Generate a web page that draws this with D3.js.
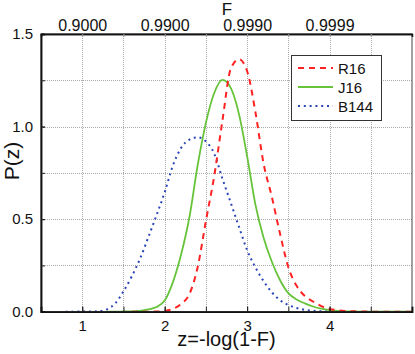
<!DOCTYPE html>
<html>
<head>
<meta charset="utf-8">
<script src="https://cdn.jsdelivr.net/npm/d3@7"></script>
<style>
  body { margin: 0; background: #fff; }
  svg { display: block; font-family: "Liberation Sans", Arial, sans-serif; }
</style>
</head>
<body>
<svg></svg>
<script>
// Chart data
var zValues = [0.7, 0.8, 0.9, 1.0, 1.1, 1.2, 1.3, 1.4, 1.5, 1.6, 1.7, 1.8, 1.9, 2.0, 2.1, 2.2, 2.3, 2.4, 2.5, 2.6,
  2.7, 2.8, 2.9, 3.0, 3.1, 3.2, 3.3, 3.4, 3.5, 3.6, 3.7, 3.8, 3.9, 4.0, 4.1, 4.2, 4.3, 4.4, 4.5, 4.6,
  4.7, 4.8, 4.9, 5.0];

var r16 = [null, null, null, null, null, null, null, null, null, 0, 0, 0, 0.001, 0.004, 0.015, 0.042, 0.095, 0.24, 0.49, 0.73,
  1.03, 1.31, 1.364, 1.3, 1.08, 0.8, 0.62, 0.42, 0.24, 0.14, 0.085, 0.055, 0.03, 0.015, 0.008, 0.004, 0.002, 0.001, 0, 0,
  0, 0, 0, 0];

var j16 = [null, null, null, null, null, null, 0, 0, 0.001, 0.002, 0.005, 0.012, 0.025, 0.06, 0.16, 0.31, 0.51, 0.79, 1.02, 1.18,
  1.252, 1.21, 1.07, 0.84, 0.58, 0.4, 0.27, 0.17, 0.1, 0.066, 0.045, 0.028, 0.016, 0.008, 0.004, 0.002, 0.001, 0, 0, 0,
  0, 0, 0, 0];

var b144 = [null, 0, 0, 0.001, 0.001, 0.003, 0.013, 0.045, 0.11, 0.19, 0.285, 0.4, 0.52, 0.645, 0.79, 0.885, 0.93, 0.942, 0.92, 0.855,
  0.72, 0.59, 0.46, 0.333, 0.24, 0.165, 0.105, 0.062, 0.036, 0.02, 0.01, 0.005, 0.002, 0.001, 0, 0, null, null, null, null,
  null, null, null, null];

var seriesNames = ["R16", "J16", "B144"];
var xTicks = [1, 2, 3, 4];
var topTickLabels = ["0.9000", "0.9900", "0.9990", "0.9999"];
var yTicks = [0, 0.5, 1.0, 1.5];

var width = 415;
var height = 354;
var plotLeft = 41, plotRight = 412, plotTop = 34, plotBottom = 311.7;

var svg = d3.select("svg")
  .attr("width", width)
  .attr("height", height);

var x = d3.scaleLinear().domain([0.5, 5]).range([plotLeft, plotRight]);
var y = d3.scaleLinear().domain([0, 1.5]).range([plotBottom, plotTop]);

// dotted grid
var grid = svg.append("g")
  .attr("stroke", "#aaa")
  .attr("stroke-width", 1)
  .attr("stroke-dasharray", "1,1");

grid.selectAll(".vg")
  .data(d3.range(1, 5, 0.5))
  .enter().append("line")
  .attr("x1", d => Math.round(x(d)) + 0.5)
  .attr("x2", d => Math.round(x(d)) + 0.5)
  .attr("y1", plotTop)
  .attr("y2", plotBottom);

grid.selectAll(".hg")
  .data(d3.range(0.25, 1.5, 0.25))
  .enter().append("line")
  .attr("x1", plotLeft)
  .attr("x2", plotRight)
  .attr("y1", d => Math.round(y(d)) + 0.5)
  .attr("y2", d => Math.round(y(d)) + 0.5);

// curves
var line = d3.line()
  .defined(d => d[1] !== null)
  .x(d => x(d[0]))
  .y(d => y(d[1]))
  .curve(d3.curveMonotoneX);

var styles = [
  { name: "R16", values: r16, color: "#f22", dash: "6,5", w: 2 },
  { name: "J16", values: j16, color: "#66c33a", dash: null, w: 1.8 },
  { name: "B144", values: b144, color: "#2b45b8", dash: "2,3.8", w: 2 }
];

svg.append("clipPath").attr("id", "plot")
  .append("rect").attr("x", plotLeft).attr("y", plotTop - 5)
  .attr("width", plotRight - plotLeft).attr("height", plotBottom - plotTop + 5);

svg.append("g").attr("clip-path", "url(#plot)")
  .selectAll("path")
  .data(styles.slice().reverse())
  .enter().append("path")
  .attr("fill", "none")
  .attr("stroke", d => d.color)
  .attr("stroke-width", d => d.w)
  .attr("stroke-dasharray", d => d.dash)
  .attr("d", d => line(zValues.map((z, i) => [z, d.values[i]])));

// frame
svg.append("rect")
  .attr("x", plotLeft).attr("y", plotTop)
  .attr("width", plotRight - plotLeft).attr("height", plotBottom - plotTop)
  .attr("fill", "none")
  .attr("stroke", "#444")
  .attr("stroke-width", 1);

// left axis
var yAxis = svg.append("g")
  .attr("transform", "translate(" + plotLeft + ",0)")
  .call(d3.axisLeft(y).tickValues(yTicks).tickFormat(d3.format(".1f")).tickSize(-4).tickPadding(8));
var yMinor = svg.append("g")
  .attr("transform", "translate(" + plotLeft + ",0)")
  .call(d3.axisLeft(y).tickValues(d3.range(0, 1.51, 0.25)).tickFormat("").tickSize(-4));

// bottom axis
var xAxis = svg.append("g")
  .attr("transform", "translate(0," + plotBottom + ")")
  .call(d3.axisBottom(x).tickValues(xTicks).tickFormat(d3.format("d")).tickSize(-5).tickPadding(9));
var xMinor = svg.append("g")
  .attr("transform", "translate(0," + plotBottom + ")")
  .call(d3.axisBottom(x).tickValues(d3.range(1, 5, 0.5)).tickFormat("").tickSize(-5));

// top axis with F labels
var topAxis = svg.append("g")
  .attr("transform", "translate(0," + plotTop + ")")
  .call(d3.axisTop(x).tickValues(xTicks).tickFormat((d, i) => topTickLabels[i]).tickSize(0).tickPadding(3));
var topMinor = svg.append("g")
  .attr("transform", "translate(0," + plotTop + ")")
  .call(d3.axisTop(x).tickValues(d3.range(1, 5, 0.5)).tickFormat("").tickSize(-3));

[yAxis, yMinor, xAxis, xMinor, topAxis, topMinor].forEach(function(g) {
  g.attr("font-family", null).attr("font-size", null);
  g.select(".domain").attr("stroke", "#111").attr("stroke-width", 1.5);
  g.selectAll(".tick line").attr("stroke", "#222");
  g.selectAll("text").attr("fill", "#111");
});
topMinor.selectAll(".tick line").attr("stroke", "#999");
yAxis.selectAll("text").attr("font-size", 15);
xAxis.selectAll("text").attr("font-size", 15);
topAxis.selectAll("text").attr("font-size", 16);

// axis titles
svg.append("text")
  .attr("x", (plotLeft + plotRight) / 2)
  .attr("y", 346)
  .attr("text-anchor", "middle")
  .attr("font-size", 20)
  .attr("fill", "#111")
  .text("z=-log(1-F)");

svg.append("text")
  .attr("x", 227)
  .attr("y", 15)
  .attr("text-anchor", "middle")
  .attr("font-size", 17)
  .attr("fill", "#111")
  .text("F");

svg.append("text")
  .attr("transform", "translate(19,161) rotate(-90)")
  .attr("text-anchor", "middle")
  .attr("font-size", 21)
  .attr("fill", "#111")
  .text("P(z)");

// legend
var legend = svg.append("g");
legend.append("rect")
  .attr("x", 291.5).attr("y", 55.5)
  .attr("width", 90).attr("height", 65)
  .attr("fill", "#fff")
  .attr("stroke", "#333")
  .attr("stroke-width", 1);

var items = legend.selectAll(".item")
  .data(styles)
  .enter().append("g")
  .attr("transform", (d, i) => "translate(0," + (68 + i * 19) + ")");

items.append("line")
  .attr("x1", 298).attr("x2", 333)
  .attr("y1", 0).attr("y2", 0)
  .attr("stroke", d => d.color)
  .attr("stroke-width", d => d.w)
  .attr("stroke-dasharray", d => d.dash);

items.append("text")
  .attr("x", 338)
  .attr("y", 6)
  .attr("font-size", 15)
  .attr("fill", "#111")
  .text((d, i) => seriesNames[i]);
</script>
</body>
</html>
